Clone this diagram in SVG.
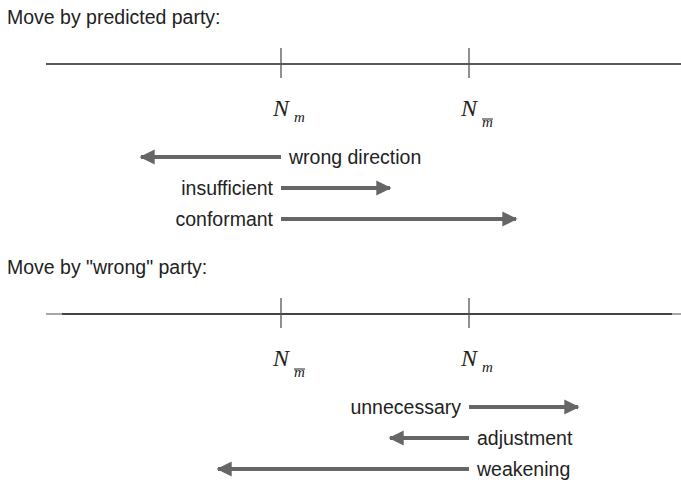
<svg xmlns="http://www.w3.org/2000/svg" width="681" height="485" viewBox="0 0 681 485">
<style>
.t{font-family:"Liberation Sans",Arial,sans-serif;font-size:19.5px;fill:#222}
.n{font-family:"Liberation Serif","Times New Roman",serif;font-style:italic;font-size:24px;fill:#222}
.s{font-family:"Liberation Serif","Times New Roman",serif;font-style:italic;font-size:15px;fill:#222}
.axis{stroke:#222;stroke-width:1.3}
.tick{stroke:#555;stroke-width:1.3}
.arr{stroke:#666;stroke-width:4;fill:none}
.ov{stroke:#222;stroke-width:1}
</style>
<defs>
<marker id="ah" viewBox="0 0 10 10" refX="9" refY="5" markerWidth="5.5" markerHeight="3.8" orient="auto" markerUnits="strokeWidth">
<path d="M0,0 L10,5 L0,10 z" fill="#666"/>
</marker>
</defs>
<text class="t" x="7" y="24">Move by predicted party:</text>
<g id="axis1">
<line class="axis" x1="46" y1="64" x2="681" y2="64"/>
<line class="tick" x1="281" y1="48" x2="281" y2="78"/>
<line class="tick" x1="469" y1="48" x2="469" y2="78"/>
</g>
<g id="label-Nm-1"><text class="n" x="273" y="116">N</text><text class="s" x="294" y="122">m</text></g>
<g id="label-Nmbar-1"><text class="n" x="461" y="116">N</text><text class="s" x="482" y="127">m</text><line class="ov" x1="482" y1="119" x2="493" y2="119"/></g>
<g id="connectors">
<line class="arr" x1="281" y1="157" x2="141" y2="157" marker-end="url(#ah)"/>
<line class="arr" x1="281" y1="188" x2="390" y2="188" marker-end="url(#ah)"/>
<line class="arr" x1="281" y1="219" x2="516" y2="219" marker-end="url(#ah)"/>
<line class="arr" x1="469" y1="407" x2="578" y2="407" marker-end="url(#ah)"/>
<line class="arr" x1="469" y1="438" x2="390" y2="438" marker-end="url(#ah)"/>
<line class="arr" x1="469" y1="469" x2="218" y2="469" marker-end="url(#ah)"/>
</g>
<g id="wrong-direction"><text class="t" x="289" y="164">wrong direction</text></g>
<g id="insufficient"><text class="t" x="273" y="195" text-anchor="end">insufficient</text></g>
<g id="conformant"><text class="t" x="273" y="226" text-anchor="end">conformant</text></g>
<text class="t" x="7" y="274">Move by "wrong" party:</text>
<g id="axis2">
<line stroke="#888" stroke-width="1.3" x1="46" y1="314" x2="681" y2="314"/>
<line class="axis" x1="62" y1="314" x2="672" y2="314"/>
<line class="tick" x1="281" y1="298" x2="281" y2="328"/>
<line class="tick" x1="469" y1="298" x2="469" y2="328"/>
</g>
<g id="label-Nmbar-2"><text class="n" x="273" y="366">N</text><text class="s" x="294" y="377">m</text><line class="ov" x1="294" y1="369" x2="305" y2="369"/></g>
<g id="label-Nm-2"><text class="n" x="461" y="366">N</text><text class="s" x="482" y="372">m</text></g>
<g id="unnecessary"><text class="t" x="461" y="414" text-anchor="end">unnecessary</text></g>
<g id="adjustment"><text class="t" x="477" y="445">adjustment</text></g>
<g id="weakening"><text class="t" x="477" y="476">weakening</text></g>
</svg>
